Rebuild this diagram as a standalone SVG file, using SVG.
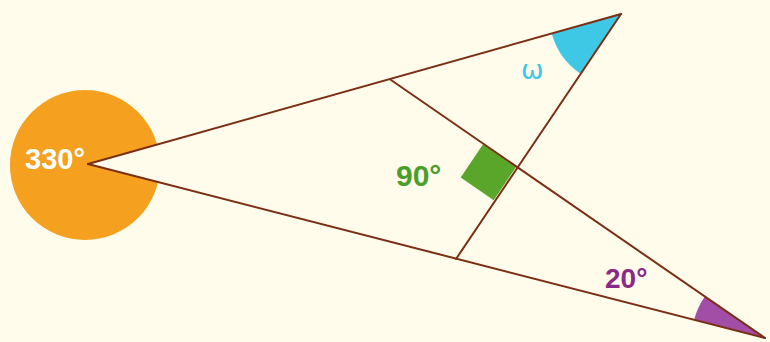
<svg xmlns="http://www.w3.org/2000/svg" width="770" height="342" viewBox="0 0 770 342">
<style>
.ln{stroke:#7a2e14;stroke-width:2;fill:none;stroke-linecap:round}
.lbl{font-family:"Liberation Sans",Arial,sans-serif;font-weight:bold}
</style>
<rect width="770" height="342" fill="#fffcec"/>
<g id="circle330">
<circle cx="85" cy="165" r="75" fill="#f5a01e"/>
<polygon points="88,164 621,14 765,338" fill="#fffcec"/>
<text class="lbl" x="25" y="169" font-size="29" fill="#ffffff">330°</text>
</g>
<g id="angleOmega">
<path d="M621,14 L551.7,33.5 A72,72 0 0 0 580.3,73.6 Z" fill="#3ec8e6"/>
<text x="521" y="79" font-family="'DejaVu Sans','Liberation Sans',sans-serif" font-size="27" fill="#3ec8e6">ω</text>
</g>
<g id="angle90">
<polygon points="516,167 483,144.3 460.7,177.5 493.7,200.2" fill="#5aa62a"/>
<text class="lbl" x="396" y="186" font-size="30" fill="#4a9e2a">90°</text>
</g>
<g id="angle20">
<path d="M765,338 L694.2,319.8 A73,73 0 0 1 704.8,296.5 Z" fill="#a24ea6"/>
<text class="lbl" x="605" y="287.5" font-size="28" fill="#8a2a86">20°</text>
</g>
<g id="connectors">
<line class="ln" x1="88" y1="164" x2="621" y2="14"/>
<line class="ln" x1="88" y1="164" x2="765" y2="338"/>
<line class="ln" x1="621" y1="14" x2="456" y2="259"/>
<line class="ln" x1="391" y1="80" x2="765" y2="338"/>
</g>
</svg>
